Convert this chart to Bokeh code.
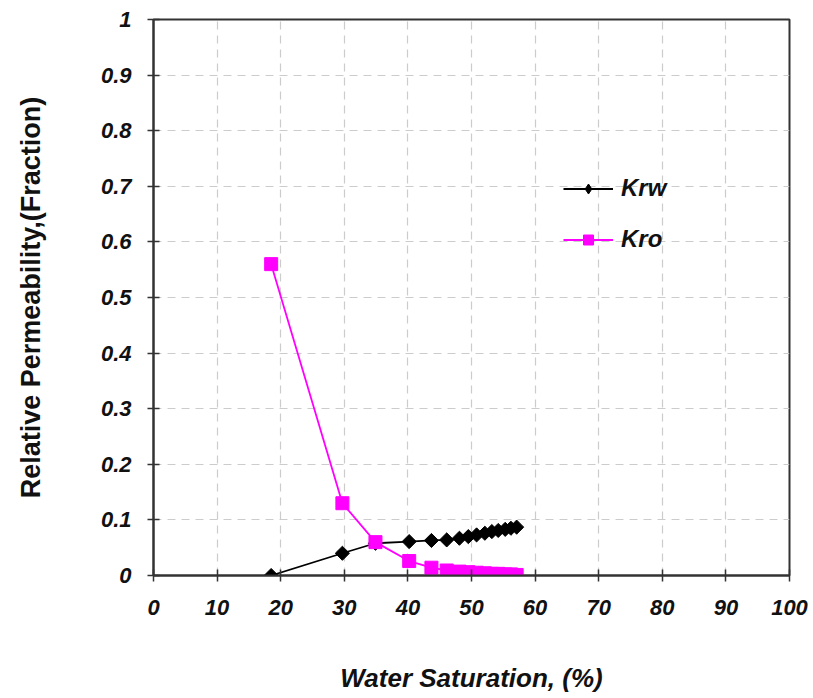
from bokeh.plotting import figure
from bokeh.models import CustomJSTickFormatter, SingleIntervalTicker, Range1d, Legend
from bokeh.embed import file_html
from bokeh.resources import INLINE
import math

sw = [18.5, 29.7, 34.9, 40.2, 43.7, 46.1, 48.1, 49.5, 50.8, 52.1, 53.2, 54.2, 55.3, 56.2, 57.1]
krw = [0.0, 0.040, 0.058, 0.061, 0.063, 0.064, 0.067, 0.070, 0.073, 0.076, 0.079, 0.081, 0.083, 0.085, 0.087]
kro = [0.560, 0.130, 0.060, 0.026, 0.014, 0.009, 0.007, 0.006, 0.005, 0.004, 0.003, 0.003, 0.002, 0.002, 0.001]

FONT = "Liberation Sans"

p = figure(width=813, height=698, output_backend="svg", toolbar_location=None,
           x_range=Range1d(0, 100), y_range=Range1d(0, 1),
           min_border_left=153, min_border_right=24, min_border_top=19, min_border_bottom=123)

p.outline_line_color = "#333333"
p.outline_line_width = 2

for ax in (p.xaxis[0], p.yaxis[0]):
    ax.axis_line_color = "#333333"
    ax.axis_line_width = 2
    ax.major_tick_line_color = "#333333"
    ax.major_tick_line_width = 1.5
    ax.major_tick_in = 6
    ax.major_tick_out = 6
    ax.minor_tick_line_color = None
    ax.major_label_text_font = FONT
    ax.major_label_text_font_style = "bold italic"
    ax.major_label_text_font_size = "22px"
    ax.major_label_text_color = "#111111"
    ax.axis_label_text_font = FONT
    ax.axis_label_text_color = "#111111"

p.xaxis.ticker = SingleIntervalTicker(interval=10)
p.yaxis.ticker = SingleIntervalTicker(interval=0.1)
p.yaxis.formatter = CustomJSTickFormatter(code="var s = tick.toFixed(1); return s.replace(/\\.0$/, '');")
p.xaxis.major_label_standoff = 18
p.yaxis.major_label_standoff = 16

p.xaxis.axis_label = "Water Saturation, (%)"
p.xaxis.axis_label_text_font_style = "bold italic"
p.xaxis.axis_label_text_font_size = "26px"
p.xaxis.axis_label_standoff = 45

p.yaxis.axis_label = "Relative Permeability,(Fraction)"
p.yaxis.axis_label_text_font_style = "bold"
p.yaxis.axis_label_text_font_size = "27px"
p.yaxis.axis_label_standoff = 52

p.xgrid.grid_line_color = "#cccccc"
p.ygrid.grid_line_color = "#cccccc"
p.xgrid.grid_line_dash = "8 6"
p.ygrid.grid_line_dash = "8 6"
p.xgrid.grid_line_width = 1.2
p.ygrid.grid_line_width = 1.2

l1 = p.line(sw, krw, line_color="black", line_width=1.8)
s1 = p.scatter(sw, krw, marker="square", size=10, angle=math.pi / 4, fill_color="black", line_color="black")
l2 = p.line(sw, kro, line_color="#ff00ff", line_width=1.8)
s2 = p.scatter(sw, kro, marker="square", size=13, fill_color="#ff00ff", line_color="#ff00ff")

# legend-only proxy for the diamond marker (legend glyphs ignore the rotation angle)
s1_leg = p.scatter([float("nan")], [float("nan")], marker="diamond", size=14, fill_color="black", line_color="black")

legend = Legend(items=[("Krw", [l1, s1_leg]), ("Kro", [l2, s2])], location=(410, 322),
                border_line_color=None, background_fill_alpha=0, padding=0, margin=0,
                glyph_width=50, glyph_height=25, label_height=25, spacing=23, label_standoff=8,
                label_text_font=FONT, label_text_font_style="bold italic", label_text_font_size="24px",
                label_text_color="#111111")
p.add_layout(legend)

open("out.html", "w").write(file_html(p, INLINE))
